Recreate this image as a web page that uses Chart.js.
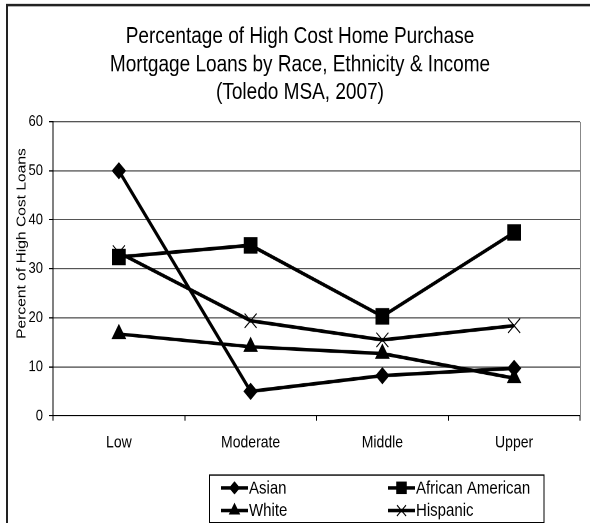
<!DOCTYPE html>
<html>
<head>
<meta charset="utf-8">
<script src="https://cdn.jsdelivr.net/npm/chart.js@4/dist/chart.umd.min.js"></script>
<style>
  html, body { margin: 0; padding: 0; background: #fff; width: 590px; height: 523px; }
  #outer { width: 590px; height: 523px; position: relative; }
  #wrap { position: absolute; left: 0; top: 0; width: 590px; height: 436px; transform: scaleY(1.19954); transform-origin: 0 0; }
</style>
</head>
<body>
<div id="outer"><div id="wrap"><canvas id="loanChart" width="590" height="436"></canvas></div></div>
<script>
const incomeLevels = ['Low', 'Moderate', 'Middle', 'Upper'];
const asian = [50, 5, 8.2, 9.7];
const africanAmerican = [32.4, 34.8, 20.3, 37.4];
const white = [16.7, 14.1, 12.7, 7.7];
const hispanic = [33.3, 19.4, 15.5, 18.4];
const titleLines = [
    'Percentage of High Cost Home Purchase',
    'Mortgage Loans by Race, Ethnicity & Income',
    '(Toledo MSA, 2007)'
];
const yTitle = 'Percent of High Cost Loans';
const FONT = '"Liberation Sans", Arial, sans-serif';

function series(label, data, style, radius) {
    return {
        label: label,
        data: data,
        borderColor: '#000',
        backgroundColor: '#000',
        borderWidth: 3,
        pointStyle: style,
        pointRadius: radius,
        pointBorderWidth: 1,
        pointBackgroundColor: '#000',
        pointBorderColor: '#000',
        tension: 0
    };
}

// legend box, border of the picture and rotated axis title
const extras = {
    id: 'extras',
    afterDraw(chart) {
        const ctx = chart.ctx;
        const area = chart.chartArea;
        ctx.save();
        ctx.strokeStyle = '#222';
        ctx.lineWidth = 2;
        ctx.beginPath();
        ctx.moveTo(7, 436);
        ctx.lineTo(7, 4.2);
        ctx.lineTo(592, 4.2);
        ctx.stroke();

        ctx.strokeStyle = '#888';
        ctx.lineWidth = 1;
        ctx.beginPath();
        ctx.moveTo(area.right + 0.5, area.top);
        ctx.lineTo(area.right + 0.5, area.bottom);
        ctx.stroke();

        // legend
        ctx.strokeStyle = '#000';
        ctx.lineWidth = 1;
        ctx.strokeRect(209.5, 396, 334.5, 39.5);
        const colX = [221, 388];
        const rowY = [406.7, 425.6];
        ctx.font = '15px ' + FONT;
        ctx.textBaseline = 'middle';
        ctx.textAlign = 'left';
        chart.data.datasets.forEach((ds, i) => {
            const x0 = colX[i % 2];
            const y = rowY[Math.floor(i / 2)];
            ctx.strokeStyle = '#000';
            ctx.fillStyle = '#000';
            ctx.lineWidth = 3;
            ctx.beginPath();
            ctx.moveTo(x0, y);
            ctx.lineTo(x0 + 27, y);
            ctx.stroke();
            ctx.lineWidth = 1;
            Chart.helpers.drawPoint(ctx, {
                pointStyle: ds.pointStyle,
                radius: ds.pointRadius * 0.75,
                borderWidth: 1,
                rotation: 0
            }, x0 + 13.5, y);
            ctx.fillText(ds.label, x0 + 28, y + 0.5);
        });

        ctx.translate(22, 203);
        ctx.rotate(-Math.PI / 2);
        ctx.font = '13px ' + FONT;
        ctx.fillStyle = '#000';
        ctx.textAlign = 'center';
        ctx.textBaseline = 'middle';
        ctx.fillText(yTitle, 0, 0);
        ctx.restore();
    }
};

new Chart(document.getElementById('loanChart'), {
    type: 'line',
    data: {
        labels: incomeLevels,
        datasets: [
            series('Asian', asian, 'rectRot', 6.5),
            series('African American', africanAmerican, 'rect', 9),
            series('White', white, 'triangle', 7.5),
            series('Hispanic', hispanic, 'crossRot', 8.5)
        ]
    },
    options: {
        responsive: false,
        animation: false,
        devicePixelRatio: 2,
        layout: { padding: { left: 12, right: 2, top: 0, bottom: 0 } },
        plugins: {
            legend: { display: false },
            tooltip: { enabled: false },
            title: {
                display: true,
                text: titleLines,
                color: '#000',
                font: { family: FONT, size: 19, weight: 'normal', lineHeight: 1.22 },
                padding: { top: 19.4, bottom: 12.5 }
            }
        },
        scales: {
            x: {
                offset: true,
                grid: {
                    offset: true,
                    drawOnChartArea: false,
                    drawTicks: true,
                    tickLength: 4,
                    color: '#000'
                },
                border: { color: '#000', width: 1 },
                ticks: {
                    color: '#000',
                    padding: 10,
                    maxRotation: 0,
                    font: { family: FONT, size: 14 }
                },
                afterFit(scale) { scale.height = 89.3; }
            },
            y: {
                min: 0,
                max: 60,
                grid: {
                    color: '#555',
                    tickColor: '#000',
                    tickLength: 4
                },
                border: { color: '#000', width: 1 },
                ticks: {
                    stepSize: 10,
                    color: '#000',
                    padding: 6,
                    font: { family: FONT, size: 13 }
                },
                afterFit(scale) { scale.width = 41; }
            }
        }
    },
    plugins: [extras]
});
</script>
</body>
</html>
